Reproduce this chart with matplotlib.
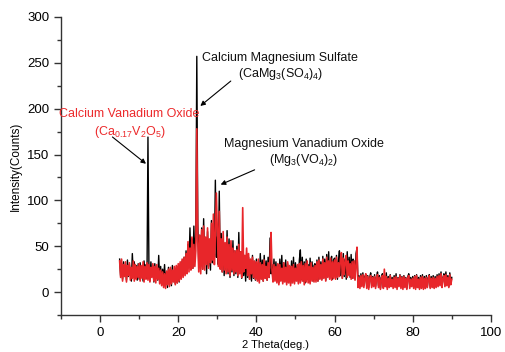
import numpy as np
import matplotlib
matplotlib.use("Agg")
import matplotlib.pyplot as plt
from matplotlib.ticker import MultipleLocator

plt.rcParams['font.family'] = ['Liberation Sans', 'DejaVu Sans']
plt.rcParams['mathtext.fontset'] = 'custom'
plt.rcParams['mathtext.rm'] = 'Liberation Sans'
plt.rcParams['mathtext.default'] = 'regular'

# 2 theta grid, 5..90 deg in 0.25 steps
two_theta = np.arange(5.0, 90.001, 0.25)

# black pattern
counts_black = [
    36, 18, 31, 14, 33, 20, 28, 13, 35, 17, 30, 22, 12, 42, 19, 33, 15, 29, 13, 31,
    14, 32, 17, 28, 12, 34, 19, 30, 15, 169, 27, 12, 33, 18, 29, 11, 31, 16, 26, 13,
    40, 12, 28, 9, 25, 14, 30, 8, 22, 5, 27, 11, 24, 7, 29, 12, 21, 9, 26, 10,
    28, 11, 31, 15, 34, 18, 38, 20, 45, 22, 52, 28, 70, 30, 58, 26, 72, 35, 64, 257,
    75, 30, 62, 28, 70, 25, 80, 33, 58, 20, 66, 28, 55, 24, 78, 32, 64, 40, 122, 38,
    60, 30, 110, 26, 64, 22, 55, 18, 50, 24, 67, 20, 58, 16, 48, 22, 56, 18, 45, 20,
    50, 16, 65, 22, 44, 15, 40, 18, 36, 12, 42, 16, 38, 14, 35, 12, 40, 15, 33, 13,
    36, 14, 31, 12, 42, 15, 35, 12, 40, 18, 34, 13, 38, 16, 59, 20, 30, 12, 36, 14,
    33, 12, 30, 10, 36, 14, 40, 11, 32, 13, 35, 10, 31, 12, 28, 9, 34, 13, 38, 11,
    32, 13, 29, 11, 35, 46, 14, 38, 12, 33, 10, 36, 14, 30, 11, 37, 15, 33, 12, 29,
    31, 13, 35, 12, 38, 15, 33, 14, 39, 16, 36, 13, 41, 17, 44, 15, 32, 39, 14, 35,
    37, 16, 40, 14, 34, 45, 18, 39, 15, 42, 17, 36, 14, 44, 19, 38, 16, 41, 15, 36,
    33, 14, 42, 48, 10, 18, 6, 20, 9, 21, 7, 17, 19, 6, 18, 5, 16, 21, 7, 17,
    8, 19, 6, 16, 22, 7, 18, 4, 16, 20, 6, 17, 8, 21, 5, 17, 7, 19, 9, 16,
    6, 18, 7, 20, 5, 16, 8, 19, 6, 17, 5, 18, 7, 16, 4, 17, 20, 6, 16, 8,
    17, 6, 18, 5, 19, 7, 16, 4, 18, 6, 19, 5, 17, 4, 18, 6, 16, 19, 5, 17,
    7, 18, 5, 17, 6, 19, 7, 20, 8, 22, 6, 16, 20, 7, 22, 8, 18, 6, 21, 9,
    16,
]

# red pattern
counts_red = [
    34, 16, 36, 12, 30, 17, 33, 11, 29, 18, 32, 13, 27, 15, 34, 12, 30, 14, 28, 16,
    31, 12, 29, 15, 33, 11, 28, 14, 32, 13, 30, 11, 27, 16, 31, 12, 28, 10, 30, 14,
    26, 9, 24, 7, 22, 5, 20, 4, 23, 8, 25, 6, 27, 9, 24, 11, 28, 8, 29, 10,
    31, 12, 33, 14, 36, 16, 38, 18, 42, 20, 55, 22, 48, 24, 60, 26, 52, 28, 45, 178,
    55, 22, 62, 20, 68, 25, 72, 24, 60, 30, 70, 26, 58, 32, 75, 35, 85, 30, 62, 108,
    70, 28, 88, 25, 58, 22, 66, 24, 54, 20, 60, 22, 52, 18, 56, 24, 48, 20, 45, 22,
    46, 18, 52, 20, 44, 16, 92, 22, 40, 26, 48, 18, 42, 14, 36, 20, 38, 16, 34, 14,
    33, 12, 36, 10, 32, 14, 30, 12, 35, 15, 28, 13, 32, 16, 38, 65, 24, 11, 30, 12,
    28, 10, 31, 8, 30, 12, 26, 9, 32, 11, 27, 8, 33, 10, 29, 7, 28, 10, 30, 9,
    26, 12, 30, 9, 31, 10, 33, 12, 29, 8, 31, 11, 34, 10, 28, 9, 32, 12, 27, 11,
    29, 11, 33, 12, 35, 14, 30, 13, 36, 15, 32, 12, 38, 16, 34, 14, 37, 13, 33, 15,
    35, 14, 38, 16, 32, 17, 36, 43, 15, 37, 19, 33, 40, 16, 34, 18, 31, 14, 33, 15,
    34, 13, 30, 49, 5, 16, 4, 18, 6, 19, 5, 15, 20, 4, 17, 3, 15, 18, 5, 16,
    6, 17, 4, 15, 19, 5, 16, 3, 14, 18, 4, 25, 6, 17, 3, 15, 5, 18, 6, 14,
    4, 16, 5, 17, 3, 15, 6, 18, 4, 16, 3, 17, 5, 15, 3, 16, 18, 4, 14, 6,
    15, 4, 17, 3, 18, 5, 14, 3, 16, 4, 17, 3, 15, 4, 16, 5, 14, 18, 4, 15,
    5, 16, 4, 15, 5, 17, 6, 18, 7, 20, 5, 15, 18, 6, 19, 7, 16, 5, 19, 8,
    14,
]

x_ticks = [0, 20, 40, 60, 80, 100]
y_ticks = [0, 50, 100, 150, 200, 250, 300]

fig = plt.figure(figsize=(5.06, 3.52), dpi=100)
ax = fig.add_axes([0.1206, 0.105, 0.8494, 0.847])

ax.plot(two_theta, counts_black, color='black', lw=1.0)
ax.plot(two_theta, counts_red, color='#e8262a', lw=1.2)

ax.set_xlim(-10, 100)
ax.set_ylim(-25, 300)
ax.set_xticks(x_ticks)
ax.set_yticks(y_ticks)
ax.xaxis.set_minor_locator(MultipleLocator(10))
ax.yaxis.set_minor_locator(MultipleLocator(25))

for s in ['top', 'right']:
    ax.spines[s].set_visible(False)
for s in ['left', 'bottom']:
    ax.spines[s].set_color('#333333')
    ax.spines[s].set_linewidth(1.0)
ax.tick_params(which='major', direction='out', length=5, width=1, colors='#333333',
               labelsize=9.5, labelcolor='black')
ax.tick_params(which='minor', direction='out', length=3, width=1, colors='#333333')

ax.set_xlabel('2 Theta(deg.)', fontsize=8, labelpad=1)
ax.set_ylabel('Intensity(Counts)', fontsize=8.5, labelpad=4)

red = '#ec2a2c'
ax.text(7.5, 194, 'Calcium Vanadium Oxide', color=red, fontsize=9, ha='center', va='center')
ax.text(7.7, 175, r'(Ca$_{0.17}$V$_2$O$_5$)', color=red, fontsize=9, ha='center', va='center')
ax.annotate('', xy=(12.3, 138), xytext=(2.6, 171),
            arrowprops=dict(arrowstyle='-|>', color='black', lw=0.8, mutation_scale=7))

ax.text(26.0, 255, 'Calcium Magnesium Sulfate', color='#111111', fontsize=9, ha='left', va='center')
ax.text(46.3, 238, r'(CaMg$_3$(SO$_4$)$_4$)', color='#111111', fontsize=9, ha='center', va='center')
ax.annotate('', xy=(25.1, 201), xytext=(34.0, 232),
            arrowprops=dict(arrowstyle='-|>', color='black', lw=0.8, mutation_scale=7))

ax.text(31.6, 161, 'Magnesium Vanadium Oxide', color='#111111', fontsize=9, ha='left', va='center')
ax.text(52.2, 143.5, r'(Mg$_3$(VO$_4$)$_2$)', color='#111111', fontsize=9, ha='center', va='center')
ax.annotate('', xy=(30.2, 116), xytext=(40.2, 134.5),
            arrowprops=dict(arrowstyle='-|>', color='black', lw=0.8, mutation_scale=7))

fig.savefig('out.png', dpi=100)
